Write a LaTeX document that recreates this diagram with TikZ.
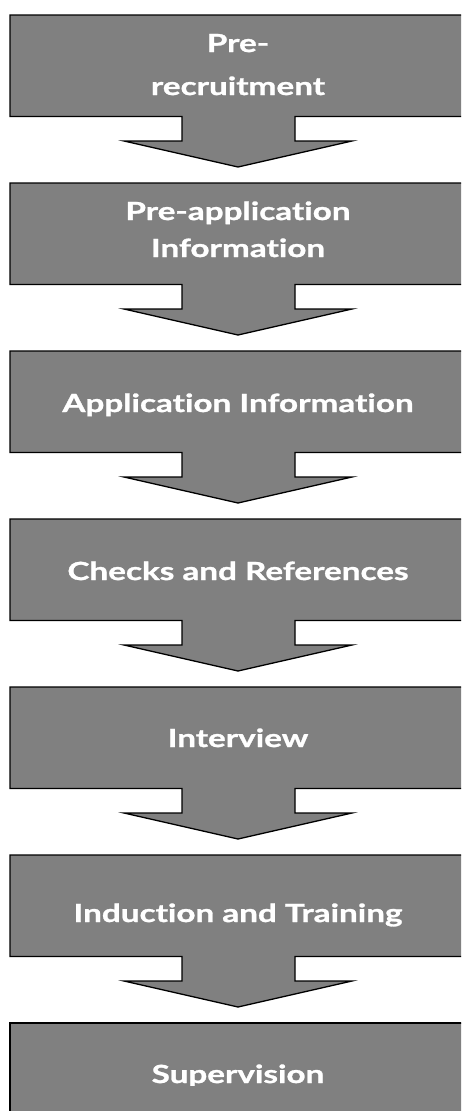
\documentclass[tikz,border=0pt]{standalone}
\usepackage{fontspec}
\setmainfont{Lato}[FakeStretch=1.33,Ligatures=NoCommon,BoldFeatures={FakeBold=1.2}]
\begin{document}
\begin{tikzpicture}[x=1pt,y=-1pt,
  blockarrow/.style={fill=boxgray,draw=black,line width=1.3pt,line join=miter},
  steptext/.style={text=white,font=\bfseries\fontsize{25}{30}\selectfont,anchor=base,inner sep=0pt}]
\definecolor{boxgray}{RGB}{128,128,128}
\useasboundingbox (0,0) rectangle (461,1111);
\clip (0,0) rectangle (461,1111);
\foreach \i in {0,...,5}{
  \pgfmathsetmacro{\T}{15+168*\i}
  \draw[blockarrow] (10,\T) -- (468,\T) -- (468,\T+101.5) -- (295,\T+101.5) -- (295,\T+126)
    -- (352,\T+126) -- (238,\T+152) -- (124,\T+126) -- (182,\T+126) -- (182,\T+101.5)
    -- (10,\T+101.5) -- cycle;
}
\draw[blockarrow] (10,1023) rectangle (468,1140);
\node[steptext] (s1a) at (238,52) {Pre-};
\node[steptext] (s1b) at (238,95) {recruitment};
\node[steptext] (s2a) at (238,220) {Pre-application};
\node[steptext] (s2b) at (238,257) {Information};
\node[steptext] (s3) at (238,412) {Application Information};
\node[steptext] (s4) at (238,580) {Checks and References};
\node[steptext] (s5) at (238,747) {Interview};
\node[steptext] (s6) at (238,922) {Induction and Training};
\begin{scope}
\clip (0,0) rectangle (461,1085);
\node[steptext] (s7) at (238,1083) {Supervision};
\end{scope}
\end{tikzpicture}
\end{document}
